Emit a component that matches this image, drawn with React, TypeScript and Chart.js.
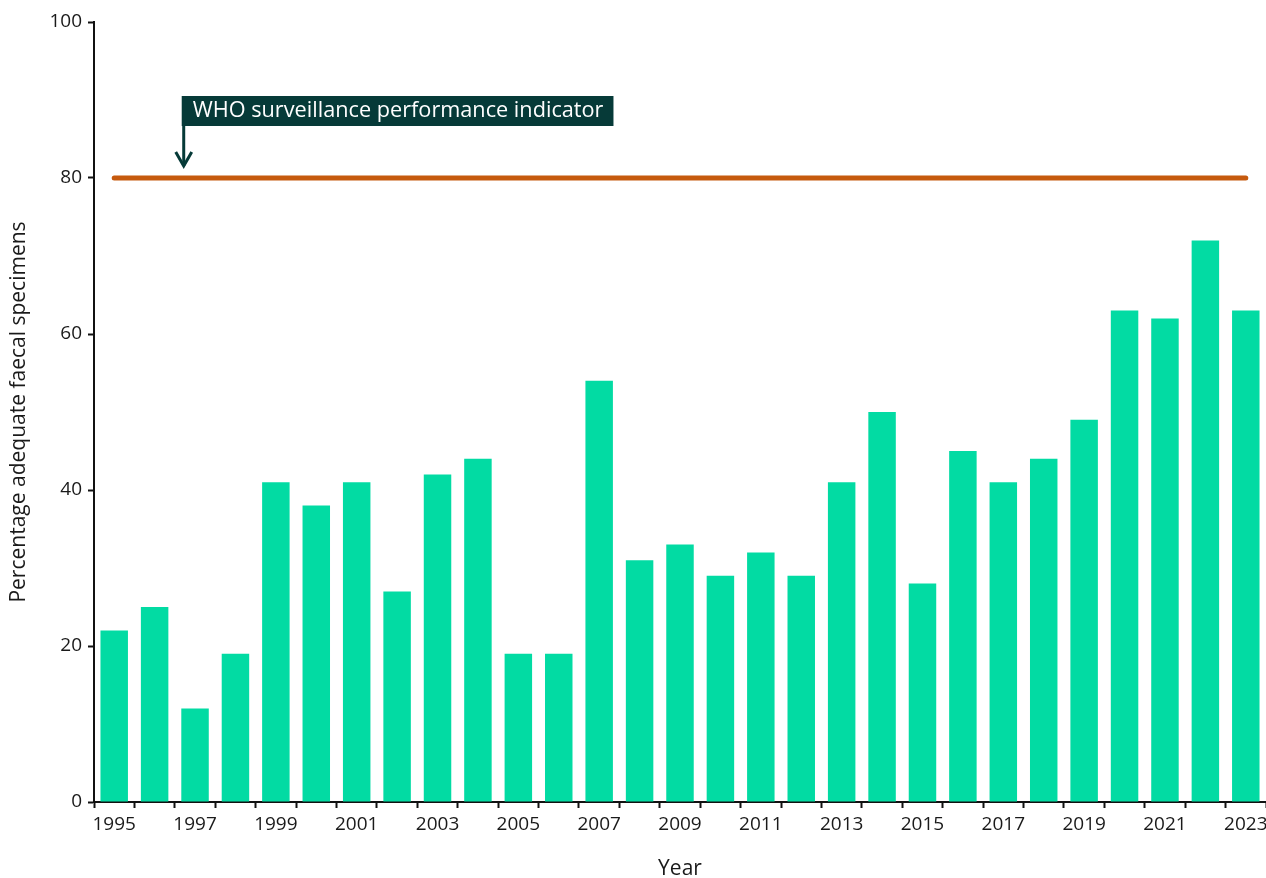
import React, { useEffect, useRef } from "react";
import { Chart, registerables } from "chart.js";

Chart.register(...registerables);

const years = [
  "1995","1996","1997","1998","1999","2000","2001","2002","2003","2004",
  "2005","2006","2007","2008","2009","2010","2011","2012","2013","2014",
  "2015","2016","2017","2018","2019","2020","2021","2022","2023",
];
const adequatePct = [
  22, 25, 12, 19, 41, 38, 41, 27, 42, 44,
  19, 19, 54, 31, 33, 29, 32, 29, 41, 50,
  28, 45, 41, 44, 49, 63, 62, 72, 63,
];
const whoIndicator = years.map(() => 80);
const annotationText = "WHO surveillance performance indicator";
const yTitle = "Percentage adequate faecal specimens";
const xTitle = "Year";

const FONT = "'Open Sans', 'Noto Sans', sans-serif";

const annotationPlugin = {
  id: "whoAnnotation",
  afterDraw(chart: any) {
    const { ctx } = chart;
    const y = chart.scales.y;
    const x = chart.scales.x;
    const lineY = y.getPixelForValue(80);
    const ax = x.getPixelForValue(1.72);
    const boxTop = lineY - 82;
    const boxH = 30;
    ctx.save();
    ctx.font = `21.7px ${FONT}`;
    const tw = ctx.measureText(annotationText).width;
    const boxLeft = ax - 2;
    const boxW = tw + 21;
    ctx.fillStyle = "#063a38";
    ctx.fillRect(boxLeft, boxTop, boxW, boxH);
    ctx.fillStyle = "#ffffff";
    ctx.textBaseline = "middle";
    ctx.textAlign = "left";
    ctx.fillText(annotationText, boxLeft + 11, boxTop + boxH / 2);
    // arrow
    ctx.strokeStyle = "#063a38";
    ctx.lineWidth = 3;
    ctx.lineCap = "butt";
    ctx.beginPath();
    ctx.moveTo(ax, boxTop + boxH);
    ctx.lineTo(ax, lineY - 12);
    ctx.stroke();
    ctx.beginPath();
    ctx.lineJoin = "miter";
    ctx.moveTo(ax - 8, lineY - 26);
    ctx.lineTo(ax, lineY - 12);
    ctx.lineTo(ax + 8, lineY - 26);
    ctx.stroke();
    ctx.restore();
  },
};

export default function App() {
  const canvasRef = useRef<HTMLCanvasElement>(null);

  useEffect(() => {
    if (!canvasRef.current) return;
    const chart = new Chart(canvasRef.current, {
      type: "bar",
      data: {
        labels: years,
        datasets: [
          {
            type: "line",
            label: "WHO indicator",
            data: whoIndicator,
            borderColor: "#c65a0e",
            borderWidth: 5,
            pointRadius: 0,
            borderCapStyle: "round",
            fill: false,
            order: 0,
          } as any,
          {
            type: "bar",
            label: "Adequate specimens",
            data: adequatePct,
            backgroundColor: "#02dba3",
            categoryPercentage: 1,
            barPercentage: 0.68,
            order: 1,
          },
        ],
      },
      options: {
        animation: false,
        responsive: true,
        maintainAspectRatio: false,
        layout: { padding: { top: 22, right: 0, left: 0, bottom: 0 } },
        plugins: {
          legend: { display: false },
          tooltip: { enabled: false },
        },
        scales: {
          x: {
            offset: true,
            grid: {
              offset: true,
              drawOnChartArea: false,
              drawTicks: true,
              tickLength: 6,
              tickWidth: 2,
              tickColor: "#111",
            },
            border: { display: true, color: "#111", width: 2 },
            ticks: {
              autoSkip: false,
              maxRotation: 0,
              minRotation: 0,
              color: "#1a1a1a",
              font: { family: FONT, size: 19 },
              padding: 5,
              callback: (_v: any, i: number) => (i % 2 === 0 ? years[i] : ""),
            },
            title: {
              display: true,
              text: xTitle,
              color: "#1a1a1a",
              font: { family: FONT, size: 21 },
              padding: { top: 18, bottom: -4 },
            },
            afterFit: (scale: any) => {
              scale.height = 76;
              scale.paddingRight = 0;
            },
          },
          y: {
            min: 0,
            max: 100,
            grid: {
              drawOnChartArea: false,
              drawTicks: true,
              tickLength: 6,
              tickWidth: 2,
              tickColor: "#111",
            },
            border: { display: true, color: "#111", width: 2 },
            ticks: {
              stepSize: 20,
              color: "#1a1a1a",
              font: { family: FONT, size: 19 },
              padding: 6,
            },
            title: {
              display: true,
              text: yTitle,
              color: "#1a1a1a",
              font: { family: FONT, size: 21 },
              padding: { top: 6, bottom: 8 },
            },
            afterFit: (scale: any) => {
              scale.width = 94;
            },
          },
        },
      },
      plugins: [annotationPlugin],
    });
    return () => chart.destroy();
  }, []);

  return (
    <div style={{ position: "absolute", left: 0, top: 0, width: 1266, height: 878 }}>
      <canvas ref={canvasRef} />
    </div>
  );
}
